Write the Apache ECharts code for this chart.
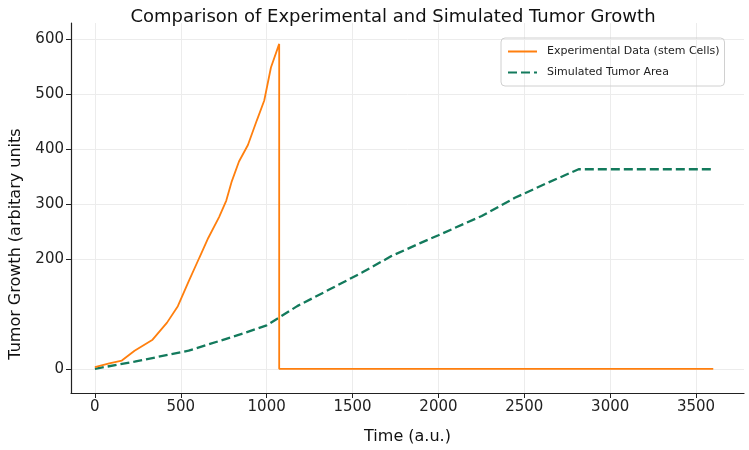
<!DOCTYPE html>
<html>
<head>
<meta charset="utf-8">
<script src="https://cdn.jsdelivr.net/npm/echarts@6/dist/echarts.min.js"></script>
<style>html,body{margin:0;padding:0;background:#fff}#c{width:749px;height:450px}</style>
</head>
<body>
<div id="c"></div>
<script>
// ---- data ----
const titleText = 'Comparison of Experimental and Simulated Tumor Growth';
const xName = 'Time (a.u.)';
const yName = 'Tumor Growth (arbitary units';
const seriesNames = ['Experimental Data (stem Cells)', 'Simulated Tumor Area'];
const xTicks = [0, 500, 1000, 1500, 2000, 2500, 3000, 3500];
const yTicks = [0, 200, 300, 400, 500, 600];

const expTime  = [0, 84, 157, 231, 336, 420, 483, 546, 608, 660, 723, 765, 797, 839, 891, 943, 986, 1025, 1073, 1073, 3600];
const expValue = [3, 10, 15, 33, 53, 84, 114, 159, 202, 238, 276, 306, 341, 377, 407, 452, 488, 548, 591, 0, 0];

const simTime  = [0, 231, 546, 860, 1000, 1178, 1370, 1555, 1726, 1897, 2000, 2252, 2445, 2641, 2816, 3600];
const simValue = [0, 13, 33, 64, 79, 114, 145, 175, 205, 229, 243, 278, 311, 339, 363, 363];

const expData = expTime.map((t, i) => [t, expValue[i]]);
const simData = simTime.map((t, i) => [t, simValue[i]]);

const font = 'DejaVu Sans';
const plain = v => String(v);
const chart = echarts.init(document.getElementById('c'), null, {renderer: 'canvas'});
chart.setOption({
  animation: false,
  backgroundColor: '#ffffff',
  title: {
    text: titleText, left: 388, top: 3, textAlign: 'center',
    textStyle: {fontFamily: font, fontSize: 18, fontWeight: 'normal', color: '#111'}
  },
  legend: {
    orient: 'vertical', left: 501, top: 38,
    padding: [8, 5, 8, 6], itemGap: 10, itemWidth: 29, itemHeight: 12,
    borderColor: '#d0d0d0', borderWidth: 1, borderRadius: 4,
    itemStyle: {opacity: 0},
    textStyle: {fontFamily: font, fontSize: 11, color: '#222', padding: [0, 0, 0, 5]},
    data: seriesNames
  },
  grid: {left: 69, right: 5, top: 23, bottom: 57},
  xAxis: {
    type: 'value', min: -139, max: 3779,
    name: xName, nameLocation: 'middle', nameGap: 36,
    nameTextStyle: {fontFamily: font, fontSize: 16, color: '#111'},
    axisLine: {show: true, onZero: false, lineStyle: {color: '#222', width: 1.2}},
    axisTick: {show: true, length: 5, customValues: xTicks, lineStyle: {color: '#222'}},
    axisLabel: {customValues: xTicks, formatter: plain, fontFamily: font, fontSize: 15, color: '#222', margin: 7},
    splitLine: {show: true, lineStyle: {color: '#ececec', width: 1}}
  },
  yAxis: {
    type: 'value', min: -44, max: 629,
    name: yName, nameLocation: 'middle', nameGap: 47,
    nameTextStyle: {fontFamily: font, fontSize: 16, color: '#111', padding: [0, 72, 0, 0]},
    axisLine: {show: true, onZero: false, lineStyle: {color: '#222', width: 1.2}},
    axisTick: {show: true, length: 5, customValues: yTicks, lineStyle: {color: '#222'}},
    axisLabel: {customValues: yTicks, formatter: plain, fontFamily: font, fontSize: 15, color: '#222', margin: 7},
    splitLine: {show: true, lineStyle: {color: '#ececec', width: 1}}
  },
  series: [
    {
      name: seriesNames[0], type: 'line', data: expData, symbol: 'none',
      lineStyle: {color: '#ff7f0e', width: 1.8}, itemStyle: {color: '#ff7f0e'}, z: 3
    },
    {
      name: seriesNames[1], type: 'line', data: simData, symbol: 'none',
      lineStyle: {color: '#137a5c', width: 2.3, type: [9, 4]}, itemStyle: {color: '#137a5c'}, z: 2
    }
  ]
});
</script>
</body>
</html>
